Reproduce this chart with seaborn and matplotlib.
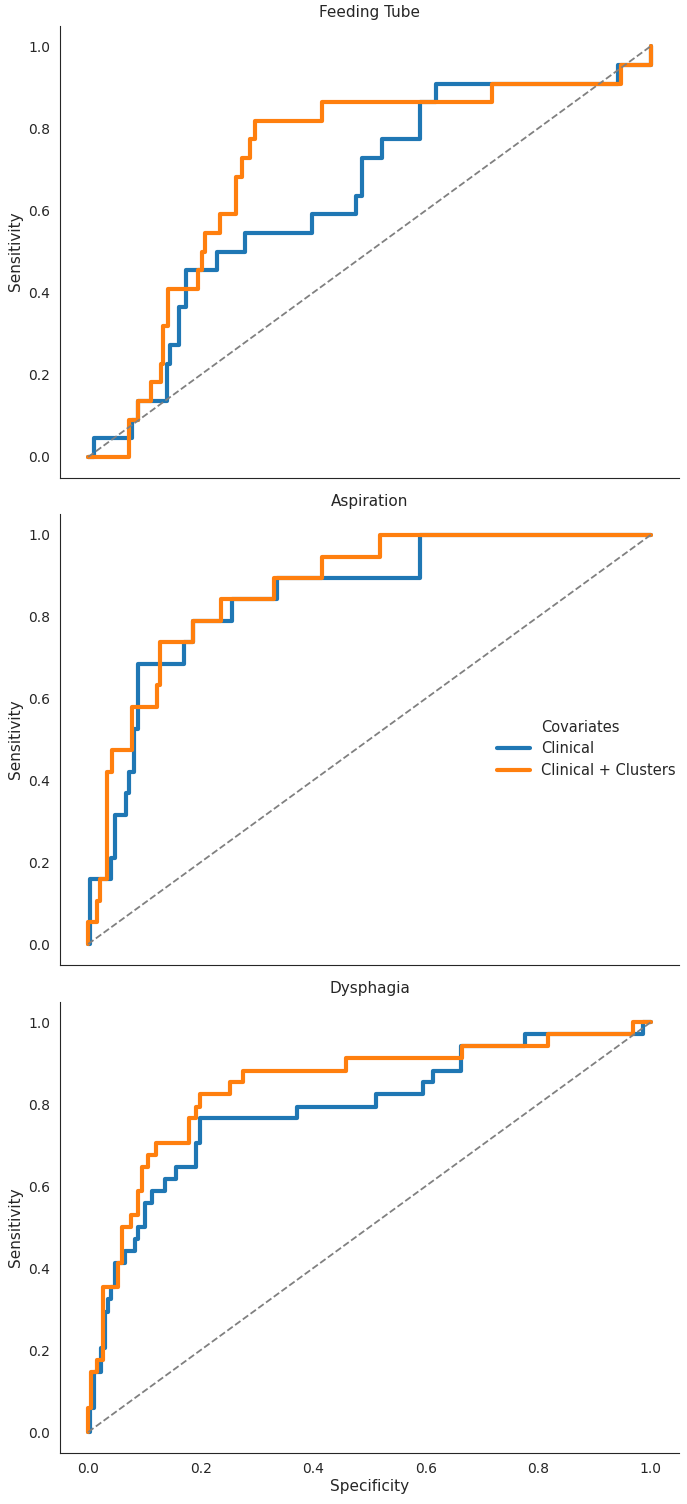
import numpy as np
import pandas as pd
import seaborn as sns
import matplotlib.pyplot as plt
from matplotlib.lines import Line2D

outcomes = ["Feeding Tube", "Aspiration", "Dysphagia"]
covariates = ["Clinical", "Clinical + Clusters"]

# ROC corner points (x where the curve steps up, y after the step)
ft_clin_x = [0.0, 0.01, 0.078, 0.089, 0.14, 0.146, 0.162, 0.174, 0.229, 0.279, 0.397, 0.476, 0.486, 0.522, 0.589, 0.618, 0.942, 1.0]
ft_clin_y = [0.0, 0.045, 0.091, 0.136, 0.227, 0.273, 0.364, 0.455, 0.5, 0.545, 0.591, 0.636, 0.727, 0.773, 0.864, 0.909, 0.955, 1.0]
ft_clus_x = [0.0, 0.073, 0.089, 0.111, 0.129, 0.133, 0.142, 0.195, 0.202, 0.208, 0.234, 0.262, 0.274, 0.287, 0.297, 0.416, 0.718, 0.947, 1.0]
ft_clus_y = [0.0, 0.091, 0.136, 0.182, 0.227, 0.318, 0.409, 0.455, 0.5, 0.545, 0.591, 0.682, 0.727, 0.773, 0.818, 0.864, 0.909, 0.955, 1.0]

asp_clin_x = [0.0, 0.0035, 0.040, 0.048, 0.067, 0.072, 0.082, 0.088, 0.171, 0.187, 0.255, 0.336, 0.59, 1.0]
asp_clin_y = [0.0, 0.158, 0.211, 0.316, 0.368, 0.421, 0.526, 0.684, 0.737, 0.789, 0.842, 0.895, 1.0, 1.0]
asp_clus_x = [0.0, 0.0001, 0.0166, 0.021, 0.033, 0.043, 0.078, 0.122, 0.127, 0.187, 0.236, 0.33, 0.415, 0.519, 1.0]
asp_clus_y = [0.0, 0.053, 0.105, 0.158, 0.421, 0.474, 0.579, 0.632, 0.737, 0.789, 0.842, 0.895, 0.947, 1.0, 1.0]

dys_clin_x = [0.0, 0.0036, 0.0107, 0.0225, 0.03, 0.036, 0.041, 0.048, 0.065, 0.083, 0.089, 0.101, 0.113, 0.137, 0.156,
              0.192, 0.198, 0.372, 0.512, 0.596, 0.613, 0.662, 0.776, 0.986, 1.0]
dys_clin_y = [0.0, 0.059, 0.147, 0.206, 0.294, 0.324, 0.353, 0.412, 0.441, 0.471, 0.5, 0.559, 0.588, 0.618, 0.647,
              0.706, 0.765, 0.794, 0.824, 0.853, 0.882, 0.941, 0.971, 1.0, 1.0]
dys_clus_x = [0.0, 0.0001, 0.0047, 0.0166, 0.027, 0.054, 0.06, 0.076, 0.089, 0.095, 0.107, 0.12, 0.179, 0.192, 0.198,
              0.252, 0.276, 0.458, 0.664, 0.818, 0.969, 1.0]
dys_clus_y = [0.0, 0.059, 0.147, 0.176, 0.353, 0.412, 0.5, 0.529, 0.588, 0.647, 0.676, 0.706, 0.765, 0.794, 0.824,
              0.853, 0.882, 0.912, 0.941, 0.971, 1.0, 1.0]

curves = {
    "Feeding Tube": [(ft_clin_x, ft_clin_y), (ft_clus_x, ft_clus_y)],
    "Aspiration": [(asp_clin_x, asp_clin_y), (asp_clus_x, asp_clus_y)],
    "Dysphagia": [(dys_clin_x, dys_clin_y), (dys_clus_x, dys_clus_y)],
}

rows = []
for outcome in outcomes:
    for cov, (xs, ys) in zip(covariates, curves[outcome]):
        for x, y in zip(xs, ys):
            rows.append({"Outcome": outcome, "Covariates": cov, "Specificity": x, "Sensitivity": y})
roc = pd.DataFrame(rows)

sns.set_style("white")
palette = ["#1f77b4", "#ff7f0e"]

fig = plt.figure(figsize=(6.87, 15.04), dpi=100)
left, width = 0.0873, 0.901
boxes = [(0.6825, 0.3005), (0.3587, 0.2993), (0.0342, 0.2998)]

for i, (outcome, (bottom, height)) in enumerate(zip(outcomes, boxes)):
    ax = fig.add_axes([left, bottom, width, height])
    sub = roc[roc["Outcome"] == outcome]
    sns.lineplot(data=sub, x="Specificity", y="Sensitivity", hue="Covariates", palette=palette,
                 estimator=None, sort=False, drawstyle="steps-post", linewidth=3, ax=ax, legend=(i == 1))
    ax.plot([0, 1], [0, 1], ls="--", color="grey", lw=1.3)
    ax.set_xlim(-0.05, 1.05)
    ax.set_ylim(-0.05, 1.05)
    ax.set_yticks(np.arange(0, 1.01, 0.2))
    ax.set_xticks(np.arange(0, 1.01, 0.2))
    ax.set_title(outcome, fontsize=11)
    ax.set_ylabel("Sensitivity", fontsize=11)
    ax.tick_params(labelsize=10)
    if i < 2:
        ax.set_xlabel("")
        ax.set_xticklabels([])
        ax.tick_params(axis="x", length=0)
    else:
        ax.set_xlabel("Specificity", fontsize=11, labelpad=2)
    sns.despine(ax=ax)
    if i == 1:
        handles, labels = ax.get_legend_handles_labels()
        ax.get_legend().remove()
        # old-style facet legend: title as a blank entry aligned with the labels
        blank = Line2D([], [], color="none")
        fig.legend([blank] + handles, ["Covariates"] + labels, frameon=False, fontsize=10.5,
                   loc="center left", bbox_to_anchor=(0.705, 0.502), handlelength=2.2,
                   labelspacing=0.45)

fig.savefig("out.png", dpi=100)
